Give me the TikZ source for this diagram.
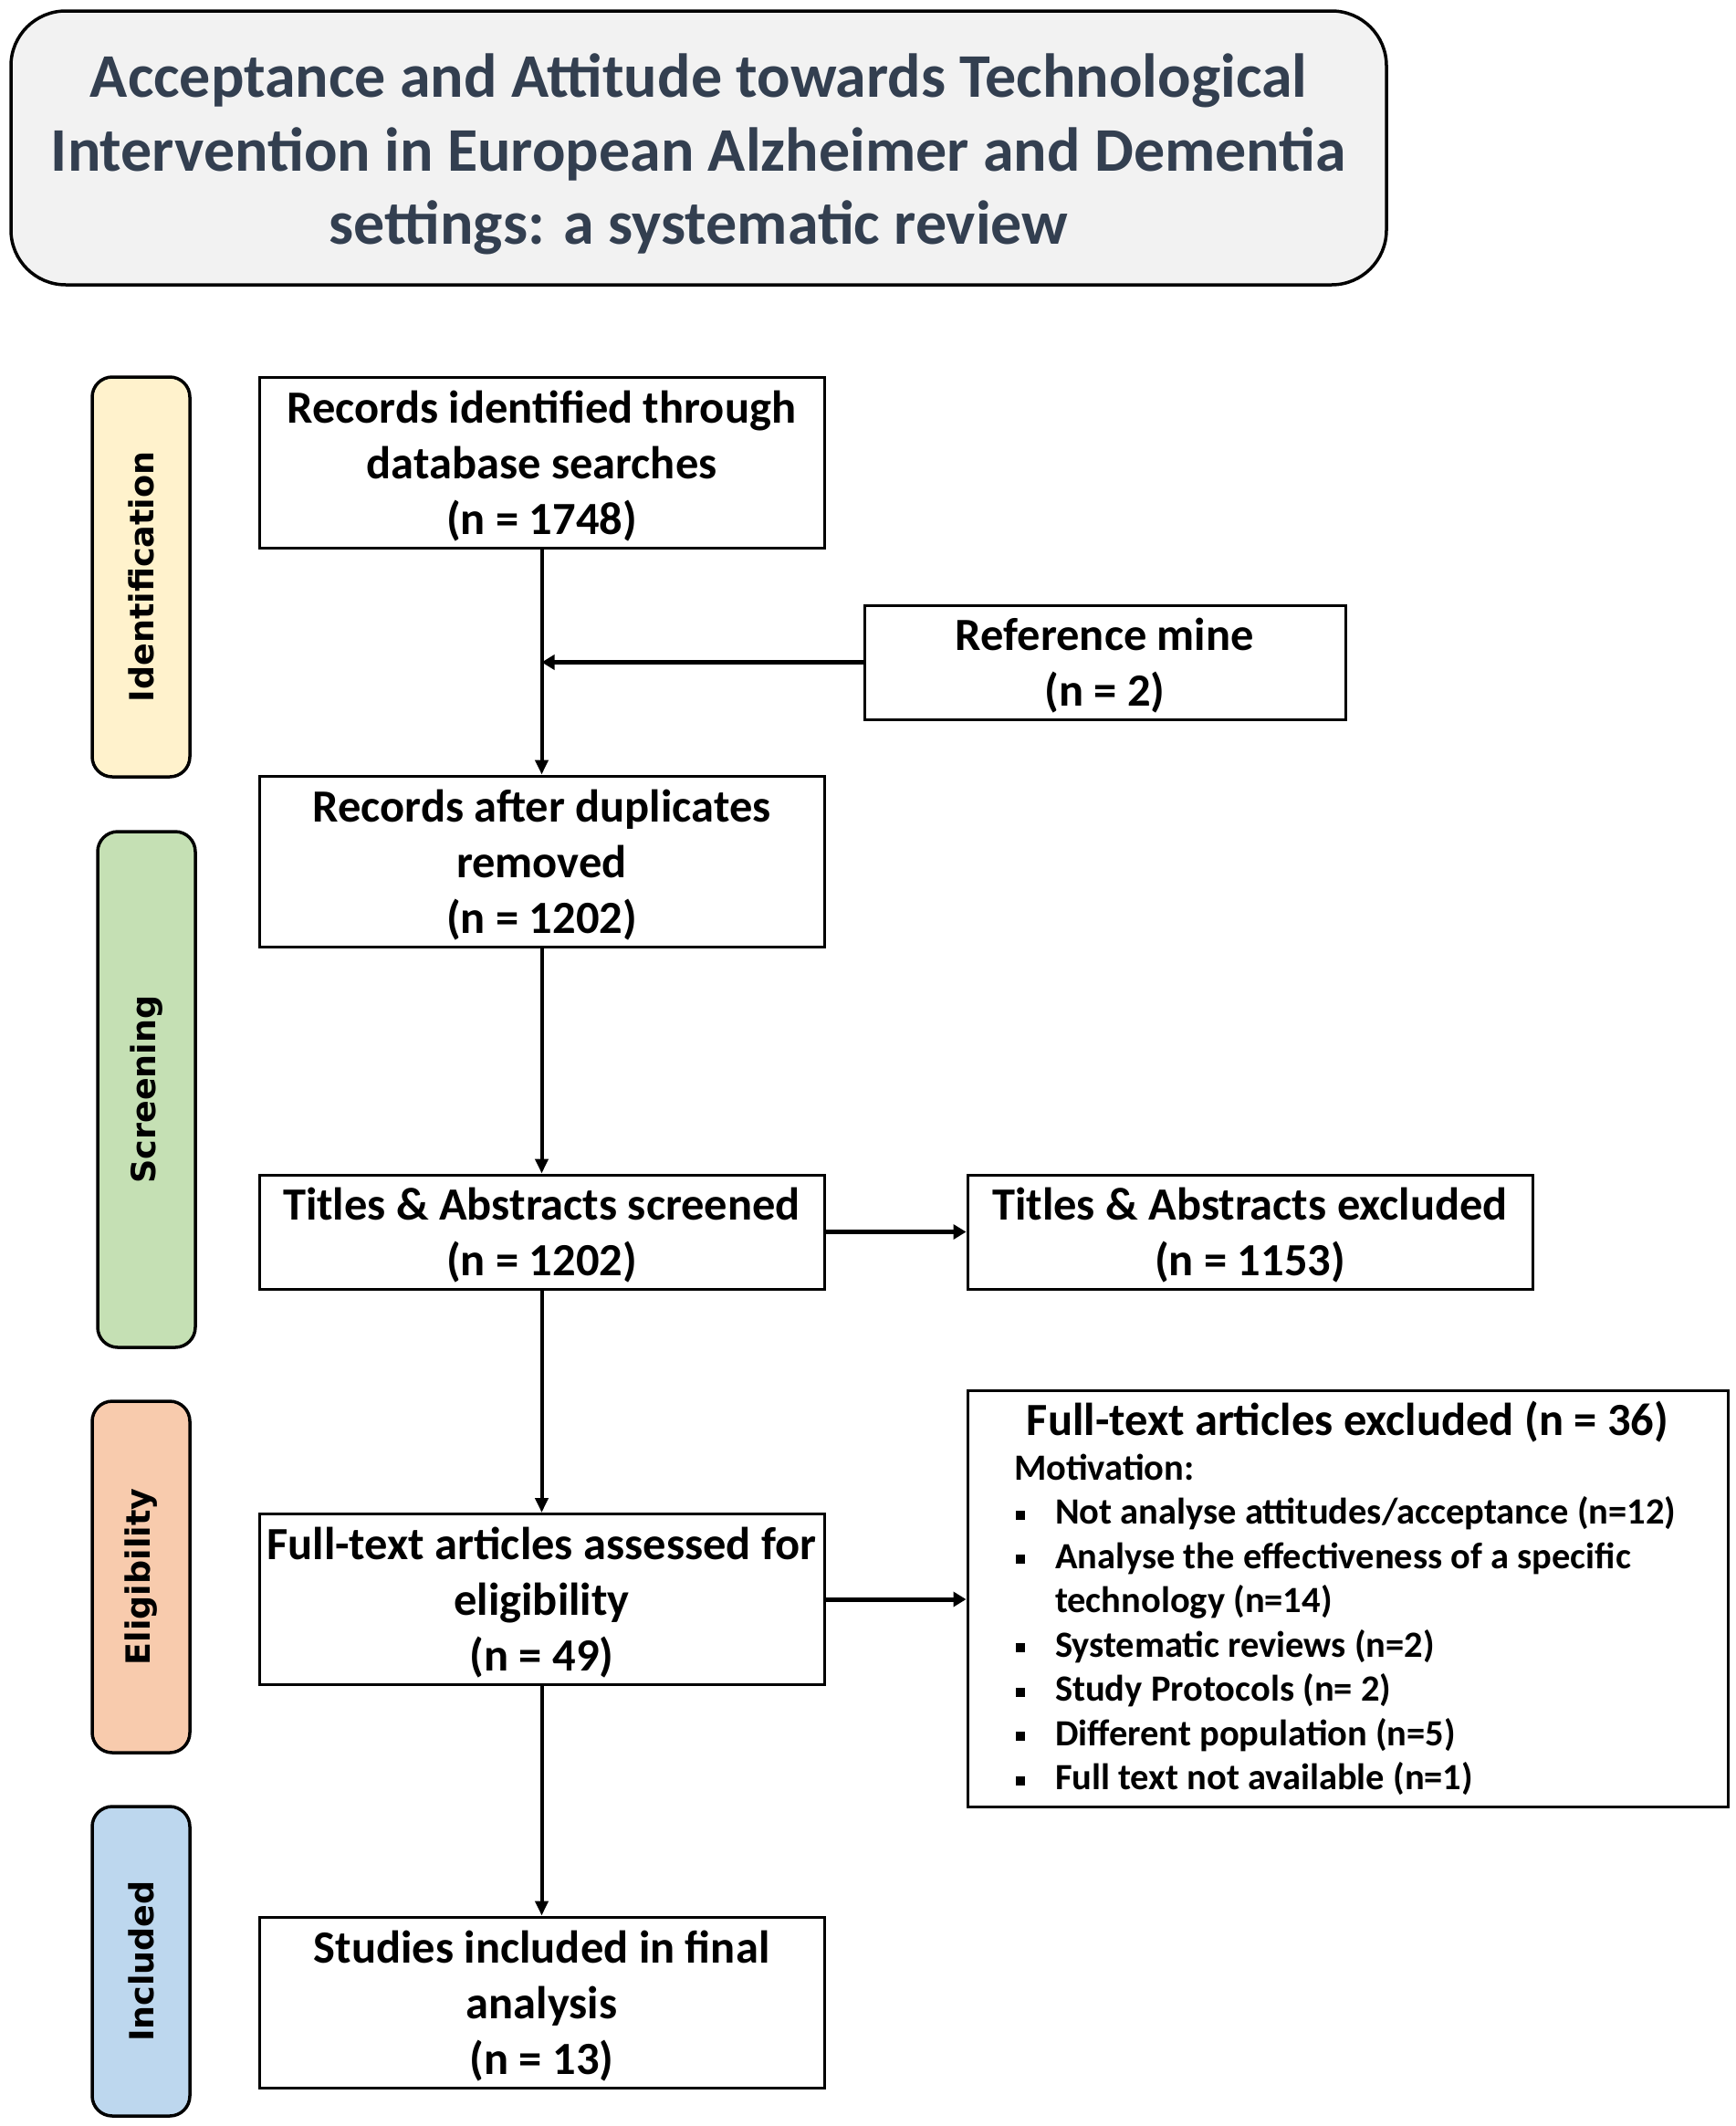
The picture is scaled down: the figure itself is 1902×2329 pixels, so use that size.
\documentclass[tikz,border=0pt]{standalone}
\usepackage{fontspec}
\setmainfont{Carlito}
\newfontfamily\sidefont{DejaVu Sans}
\usetikzlibrary{arrows.meta}
\definecolor{titlefill}{HTML}{F2F2F2}
\definecolor{titletext}{HTML}{333F50}
\definecolor{identfill}{HTML}{FFF2CC}
\definecolor{screenfill}{HTML}{C5E0B4}
\definecolor{eligfill}{HTML}{F8CBAD}
\definecolor{inclfill}{HTML}{BDD7EE}
\newcommand\topstrut{\rule{0pt}{43pt}}
\tikzset{
  mainbox/.style={draw=black, line width=3pt, fill=white, minimum width=619pt, minimum height=187pt, inner sep=0pt, align=center, font=\bfseries\fontsize{50.5}{61}\selectfont},
  sidebox/.style={draw=black, line width=3.5pt, rounded corners=22pt, minimum width=107pt, inner sep=0pt},
  sidelabel/.style={rotate=90, font=\sidefont\bfseries\fontsize{36.5}{42}\selectfont},
  vline/.style={line width=4pt, -{Triangle[width=14pt,length=16pt]}},
  hline/.style={line width=5pt, -{Triangle[width=16pt,length=14pt]}},
}
\begin{document}
\begin{tikzpicture}[x=1pt,y=-1pt]
\useasboundingbox (0,0) rectangle (1902,2329);
% title
\node[draw=black, line width=3.5pt, fill=titlefill, rounded corners=60pt, minimum width=1507pt, minimum height=300pt, align=center, text=titletext, font=\bfseries\fontsize{68}{80.5}\selectfont] (title) at (765.5,162) {\rule{0pt}{62pt}Acceptance and Attitude towards Technological\\Intervention in European Alzheimer and Dementia\\settings: a systematic review};
% side boxes
\node[sidebox, fill=identfill, minimum height=438pt] (ident) at (154.5,632) {};
\node[sidelabel] (identl) at (ident.center) {Identification};
\node[sidebox, fill=screenfill, minimum height=565pt] (screen) at (160.5,1193.5) {};
\node[sidelabel] (screenl) at (screen.center) {Screening};
\node[sidebox, fill=eligfill, minimum height=385pt] (elig) at (154.5,1727.5) {};
\node[sidelabel] (eligl) at (elig.center) {Eligibility};
\node[sidebox, fill=inclfill, minimum height=339pt] (incl) at (154.5,2148.5) {};
\node[sidelabel] (incll) at (incl.center) {Included};
% main boxes
\node[mainbox] (b1) at (593.5,506.5) {\topstrut Records identified through\\database searches\\(n = 1748)};
\node[mainbox, minimum width=527pt, minimum height=125pt] (ref) at (1210.5,725.5) {\topstrut Reference mine\\(n = 2)};
\node[mainbox] (b2) at (593.5,943.5) {\topstrut Records after duplicates\\removed\\(n = 1202)};
\node[mainbox, minimum height=125pt] (b3) at (593.5,1349.5) {\topstrut Titles \& Abstracts screened\\(n = 1202)};
\node[mainbox, minimum height=125pt] (e1) at (1369.5,1349.5) {\topstrut Titles \& Abstracts excluded\\(n = 1153)};
\node[mainbox] (b4) at (593.5,1752) {\topstrut Full-text articles assessed for\\eligibility\\(n = 49)};
\node[mainbox] (b5) at (593.5,2193.5) {\topstrut Studies included in final\\analysis\\(n = 13)};
\node[draw=black, line width=3pt, fill=white, minimum width=833pt, minimum height=456pt, inner sep=0pt, text width=833pt, align=left, font=\bfseries] (e2) at (1476.5,1751) {%
  \spaceskip=0pt\xspaceskip=0pt
  {\centering\fontsize{50.5}{61}\selectfont Full-text articles excluded (n = 36)\par}
  \fontsize{40.5}{48.5}\selectfont
  {\leftskip=51pt Motivation:\par}
  \leftskip=96pt
  \def\sq{\leavevmode\llap{\rule[5pt]{10pt}{10pt}\hspace{33pt}}}%
  \sq Not analyse attitudes/acceptance (n=12)\par
  \sq Analyse the effectiveness of a specific\par
  technology (n=14)\par
  \sq Systematic reviews (n=2)\par
  \sq Study Protocols (n= 2)\par
  \sq Different population (n=5)\par
  \sq Full text not available (n=1)\par
};
% connectors
\draw[vline] (b1.south) -- (b2.north);
\draw[hline] (ref.west) -- (b1.south |- ref.west);
\draw[vline] (b2.south) -- (b3.north);
\draw[hline] (b3.east) -- (e1.west);
\draw[vline] (b3.south) -- (b4.north);
\draw[hline] (b4.east) -- (b4.east -| e2.west);
\draw[vline] (b4.south) -- (b5.north);
\end{tikzpicture}
\end{document}
